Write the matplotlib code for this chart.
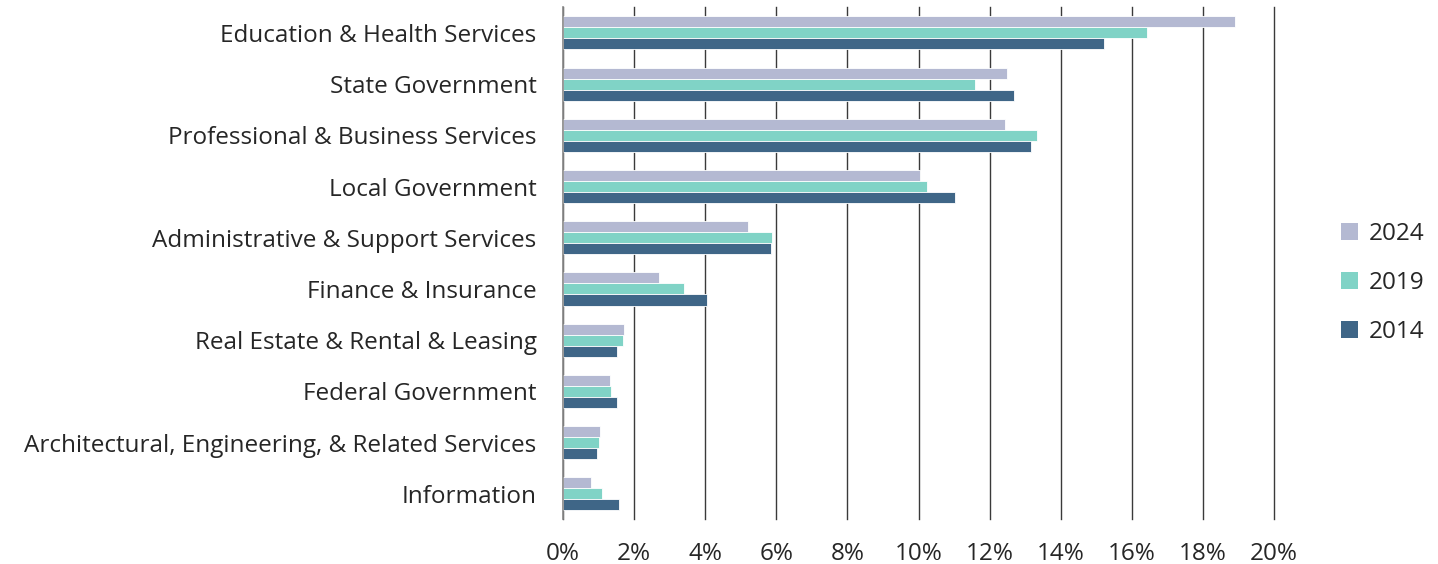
import numpy as np
import matplotlib.pyplot as plt
from matplotlib.ticker import PercentFormatter

plt.rcParams['font.family'] = ['Open Sans', 'DejaVu Sans']

industries = [
    "Education & Health Services",
    "State Government",
    "Professional & Business Services",
    "Local Government",
    "Administrative & Support Services",
    "Finance & Insurance",
    "Real Estate & Rental & Leasing",
    "Federal Government",
    "Architectural, Engineering, & Related Services",
    "Information",
]
share_2024 = [18.9, 12.5, 12.42, 10.05, 5.21, 2.69, 1.71, 1.31, 1.04, 0.78]
share_2019 = [16.43, 11.59, 13.32, 10.25, 5.89, 3.41, 1.68, 1.36, 1.00, 1.11]
share_2014 = [15.23, 12.69, 13.17, 11.04, 5.85, 4.06, 1.51, 1.52, 0.96, 1.58]

years = ["2024", "2019", "2014"]
colors = ["#b4b9d2", "#80d3c6", "#3f6687"]

fig = plt.figure(figsize=(14.38, 5.64), dpi=100)
ax = fig.add_axes([0.3915, 0.079, 0.4945, 0.908])

y = np.arange(len(industries))
h = 0.215
for i, (vals, yr, c) in enumerate(zip([share_2024, share_2019, share_2014], years, colors)):
    ax.barh(y + (i - 1) * h, vals, height=h, color=c, label=yr,
            edgecolor="white", linewidth=0.6, zorder=3)

ax.set_ylim(len(industries) - 0.5, -0.5)
ax.set_xlim(0, 20)
ax.set_xticks(np.arange(0, 21, 2))
ax.xaxis.set_major_formatter(PercentFormatter(decimals=0))
ax.set_yticks(y)
ax.set_yticklabels(industries)
ax.tick_params(axis="both", length=0, labelsize=17.5, colors="#262626")
ax.tick_params(axis="y", pad=19)
ax.tick_params(axis="x", pad=16)

ax.grid(axis="x", color="#3a3a3a", linewidth=1.0, zorder=0)
for line in ax.get_xgridlines():
    line.set_clip_on(False)
for side in ["top", "right", "bottom"]:
    ax.spines[side].set_visible(False)
ax.spines["left"].set_color("#8c8c8c")
ax.spines["left"].set_linewidth(1.2)
ax.spines["left"].set_zorder(4)

leg = ax.legend(loc="center left", bbox_to_anchor=(1.063, 0.462), frameon=False,
                fontsize=17.5, handlelength=0.7, handleheight=0.7,
                handletextpad=0.45, labelspacing=1.02, labelcolor="#262626")
for p in leg.get_patches():
    p.set_edgecolor("none")

fig.savefig("out.png", dpi=100)
